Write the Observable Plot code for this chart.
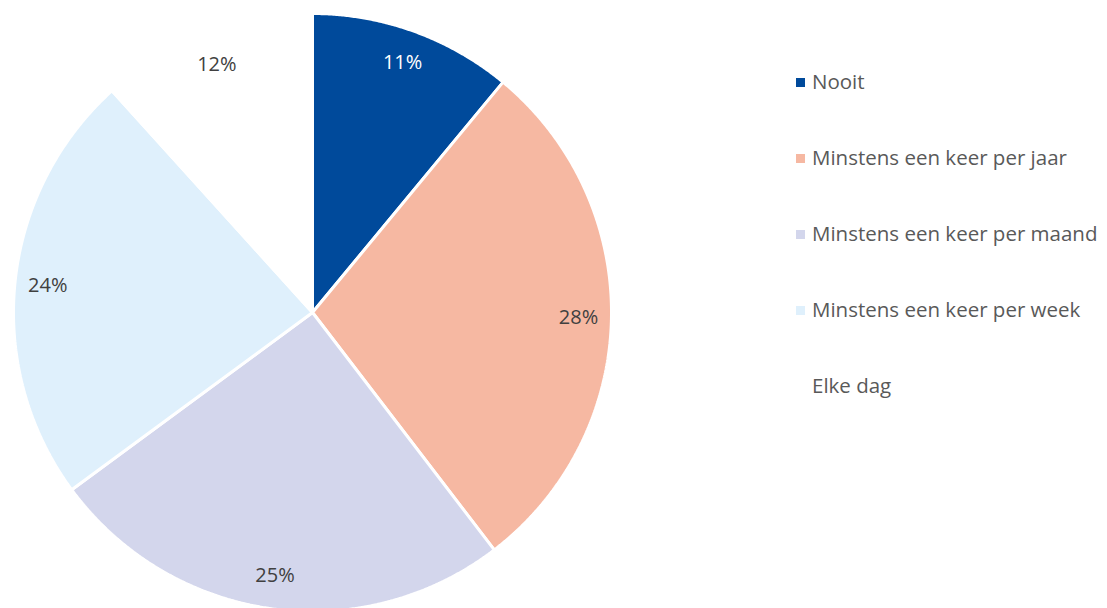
<!DOCTYPE html>
<html>
<head>
<meta charset="utf-8">
<script src="https://cdn.jsdelivr.net/npm/d3@7"></script>
<script src="https://cdn.jsdelivr.net/npm/@observablehq/plot@0.6"></script>
<style>
  html, body { margin: 0; padding: 0; background: #fff; }
  #wrap { position: relative; width: 1107px; height: 608px; overflow: hidden; font-family: "Open Sans", sans-serif; }
  #legend { position: absolute; left: 796px; top: 0; }
  .item { position: absolute; left: 0; white-space: nowrap; font-size: 20.5px; color: #595959; }
  .sw { position: absolute; left: 0; width: 9px; height: 9px; }
  .lbl { position: absolute; left: 16px; }
</style>
</head>
<body>
<div id="wrap"><div id="chart"></div><div id="legend"></div></div>
<script>
const categories = ["Nooit", "Minstens een keer per jaar", "Minstens een keer per maand", "Minstens een keer per week", "Elke dag"];
const values = [11.0, 28.6, 25.3, 23.4, 11.7];
const labelTexts = ["11%", "28%", "25%", "24%", "12%"];
const colors = ["#004a9b", "#f6b8a2", "#d3d6ec", "#dff0fc", "#ffffff"];
const labelColors = ["#ffffff", "#404040", "#404040", "#404040", "#404040"];

const W = 1107, H = 608, cx = 312, cy = 312, R = 299;
const total = d3.sum(values);

// build slice polygons (angles clockwise from 12 o'clock)
const polys = [];
const labels = [];
let acc = 0;
categories.forEach((c, i) => {
  const a0 = acc / total * 2 * Math.PI;
  acc += values[i];
  const a1 = acc / total * 2 * Math.PI;
  polys.push({cat: c, x: 0, y: 0, i});
  const n = Math.max(2, Math.ceil((a1 - a0) / 0.005));
  for (let k = 0; k <= n; k++) {
    const a = a0 + (a1 - a0) * k / n;
    polys.push({cat: c, x: Math.sin(a), y: Math.cos(a), i});
  }
  polys.push({cat: c, x: 0, y: 0, i});
  const am = (a0 + a1) / 2, f = 0.89;
  labels.push({cat: c, x: f * Math.sin(am), y: f * Math.cos(am), text: labelTexts[i], color: labelColors[i]});
});

const chart = Plot.plot({
  width: W, height: H, margin: 0,
  x: {domain: [-cx / R, (W - cx) / R], axis: null},
  y: {domain: [-(H - cy) / R, cy / R], axis: null},
  color: {domain: categories, range: colors},
  marks: [
    Plot.line(polys, {x: "x", y: "y", z: "cat", fill: "cat", stroke: "#ffffff", strokeWidth: 3, strokeLinejoin: "miter", curve: "linear"}),
    Plot.text(labels, {x: "x", y: "y", text: "text", fill: d => d.color, fontSize: 20, fontFamily: "'Open Sans', sans-serif"})
  ]
});
chart.style.fontFamily = "'Open Sans', sans-serif";
document.getElementById("chart").appendChild(chart);

const legend = document.getElementById("legend");
categories.forEach((c, i) => {
  const it = document.createElement("div");
  it.className = "item";
  it.style.top = (67 + i * 76) + "px";
  it.innerHTML = `<span class="sw" style="background:${colors[i]};top:11px"></span><span class="lbl">${c}</span>`;
  legend.appendChild(it);
});
</script>
</body>
</html>
